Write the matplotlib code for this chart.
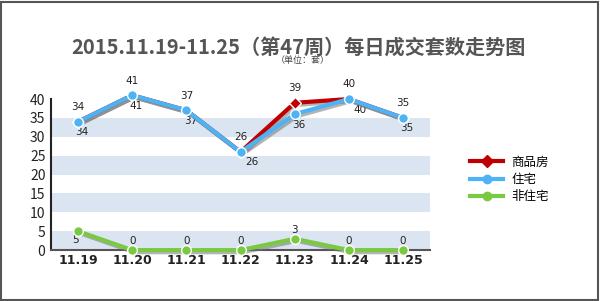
import matplotlib.pyplot as plt
import matplotlib.patheffects as pe
import numpy as np

plt.rcParams['font.family'] = ['Noto Sans CJK SC', 'DejaVu Sans']

# data
dates = ['11.19', '11.20', '11.21', '11.22', '11.23', '11.24', '11.25']
commercial = [34, 41, 37, 26, 39, 40, 35]   # 商品房
residential = [34, 41, 37, 26, 36, 40, 35]  # 住宅
non_res = [5, 0, 0, 0, 3, 0, 0]             # 非住宅

fig = plt.figure(figsize=(6, 3.01), dpi=100)
ax = fig.add_axes([0.085, 0.169, 0.632, 0.502])

x = np.arange(len(dates))

# striped background
for lo in range(0, 40, 10):
    ax.axhspan(lo, lo + 5, color='#dbe5f1', zorder=0, lw=0)

shadow = [pe.SimpleLineShadow(offset=(1.5, -1.5), shadow_color='#777777', alpha=0.55), pe.Normal()]

series = [(commercial, '#c00000', 'D', '商品房', 3),
          (residential, '#4db3f5', 'o', '住宅', 4),
          (non_res, '#7ac943', 'o', '非住宅', 4)]
for vals, col, mk, lab, z in series:
    # line with shadow, then markers on top
    ax.plot(x, vals, color=col, lw=3, path_effects=shadow, zorder=z, clip_on=False)
    ax.plot(x, vals, ls='none', color=col, marker=mk, ms=6.5 if mk == 'D' else 7,
            mec='white', mew=1, zorder=z + 0.5, clip_on=False)
    ax.plot([], [], color=col, lw=3, marker=mk, ms=6, mec=col, label=lab)

lbl = dict(textcoords='offset points', fontsize=7.5, color='#222222', family='DejaVu Sans',
           annotation_clip=False, ha='center')
for i in range(len(x)):
    ax.annotate(str(commercial[i]), (x[i], commercial[i]), xytext=(0, 7), va='bottom', **lbl)
    dx = 8 if i in (3, 5) else 3
    ax.annotate(str(residential[i]), (x[i], residential[i]), xytext=(dx, -4), va='top', **lbl)
    if i == 0:
        ax.annotate(str(non_res[i]), (x[i], non_res[i]), xytext=(-2, -3), va='top', **lbl)
    else:
        ax.annotate(str(non_res[i]), (x[i], non_res[i]), xytext=(0, 3), va='bottom', **lbl)

ax.set_xlim(-0.5, 6.5)
ax.set_ylim(0, 40)
ax.set_yticks(range(0, 41, 5))
ax.set_xticks(x)
ax.set_xticklabels(dates, fontsize=9, fontweight='bold', color='#222222', family='DejaVu Sans')
ax.tick_params(axis='y', labelsize=10, length=0, pad=4, labelcolor='#222222')
ax.tick_params(axis='x', length=0, pad=3)
ax.spines['top'].set_visible(False)
ax.spines['right'].set_visible(False)
ax.spines['left'].set_color('#222222')
ax.spines['left'].set_linewidth(1.5)
ax.spines['bottom'].set_color('#555555')
ax.spines['bottom'].set_linewidth(1.5)

fig.text(0.497, 0.845, '2015.11.19-11.25（第47周）每日成交套数走势图', ha='center', va='center',
         fontsize=14.5, fontweight='bold', color='#555555')
fig.text(0.505, 0.8, '（单位：套）', ha='center', va='center', fontsize=6.5, color='#444444')

leg = fig.legend(loc='upper left', bbox_to_anchor=(0.765, 0.52), frameon=False, fontsize=9,
                 handlelength=2.6, handletextpad=0.7, labelspacing=0.35)

# figure border
fig.patches.append(plt.Rectangle((0.002, 0.003), 0.995, 0.992, transform=fig.transFigure,
                                 fill=False, ec='#555555', lw=1.5))

fig.savefig('out.png', dpi=100)
